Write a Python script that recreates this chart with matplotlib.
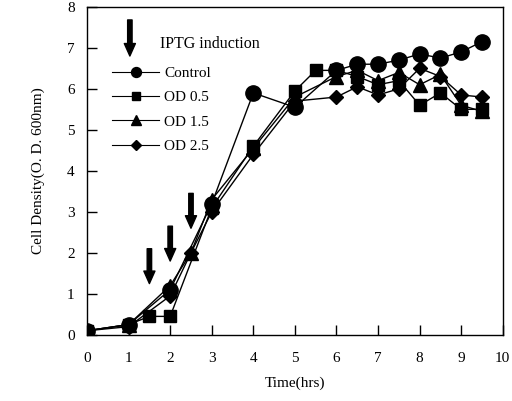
import matplotlib
matplotlib.use("Agg")
import matplotlib.pyplot as plt
from matplotlib.lines import Line2D

plt.rcParams["font.family"] = ["Liberation Serif", "DejaVu Serif"]

# ── data ──
t_control = [0, 1, 2, 3, 4, 5, 6, 6.5, 7, 7.5, 8, 8.5, 9, 9.5]
od_control = [0.1, 0.25, 1.1, 3.2, 5.9, 5.55, 6.45, 6.6, 6.6, 6.7, 6.85, 6.75, 6.9, 7.15]

t_od05 = [0, 1, 1.5, 2, 3, 4, 5, 5.5, 6, 6.5, 7, 7.5, 8, 8.5, 9, 9.5]
od_od05 = [0.1, 0.25, 0.45, 0.45, 3.1, 4.6, 5.95, 6.45, 6.45, 6.3, 6.1, 6.2, 5.6, 5.9, 5.5, 5.5]

t_od15 = [0, 1, 2, 2.5, 3, 4, 5, 6, 6.5, 7, 7.5, 8, 8.5, 9, 9.5]
od_od15 = [0.1, 0.25, 1.2, 2.0, 3.3, 4.55, 5.8, 6.3, 6.45, 6.2, 6.4, 6.1, 6.35, 5.6, 5.45]

t_od25 = [0, 1, 2, 2.5, 3, 4, 5, 6, 6.5, 7, 7.5, 8, 8.5, 9, 9.5]
od_od25 = [0.1, 0.2, 0.95, 2.0, 3.0, 4.4, 5.7, 5.8, 6.05, 5.85, 6.0, 6.5, 6.3, 5.85, 5.8]

# IPTG induction arrows (time, arrow top, arrow tip)
induce_t = [1.5, 2, 2.5]
induce_top = [2.1, 2.65, 3.45]
induce_tip = [1.25, 1.8, 2.6]

series = [
    ("Control", t_control, od_control, "o", 11),
    ("OD 0.5", t_od05, od_od05, "s", 9),
    ("OD 1.5", t_od15, od_od15, "^", 10),
    ("OD 2.5", t_od25, od_od25, "D", 7.5),
]

fig = plt.figure(figsize=(5.12, 4.01), dpi=100)
ax = fig.add_axes([0.170, 0.165, 0.812, 0.818])

for label, t, v, m, ms in series:
    ax.plot(t, v, "-", color="black", linewidth=1.0, marker=m, markersize=ms,
            markerfacecolor="black", markeredgecolor="black")

arrow_style = dict(width=3.2, headwidth=8, headlength=9, color="black", shrink=0)
for x, y0, y1 in zip(induce_t, induce_top, induce_tip):
    ax.annotate("", xy=(x, y1), xytext=(x, y0), arrowprops=arrow_style)

# legend arrow + text
ax.annotate("", xy=(1.03, 6.8), xytext=(1.03, 7.68), arrowprops=arrow_style)
ax.text(1.75, 7.1, "IPTG induction", fontsize=11.5, va="center", ha="left")

handles = [Line2D([0], [0], color="black", linewidth=0.8, marker=m, markersize=ms * 0.65,
                  markerfacecolor="black") for _, _, _, m, ms in series]
ax.legend(handles, [s[0] for s in series], loc="upper left", bbox_to_anchor=(0.06, 0.818),
          frameon=False, fontsize=11, handlelength=3.1, handletextpad=0.3,
          labelspacing=0.69, borderaxespad=0, borderpad=0)

ax.set_xlim(0, 10)
ax.set_ylim(0, 8)
ax.set_xticks(range(0, 11))
ax.set_yticks(range(0, 9))
ax.tick_params(direction="in", length=7, width=1, labelsize=11)
ax.tick_params(axis="x", pad=12)
ax.tick_params(axis="y", pad=9)
for sp in ax.spines.values():
    sp.set_linewidth(1)

ax.set_xlabel("Time(hrs)", fontsize=11, labelpad=9)
ax.set_ylabel("Cell Density(O. D. 600nm)", fontsize=11, labelpad=16)

fig.savefig("out.png", dpi=100)
